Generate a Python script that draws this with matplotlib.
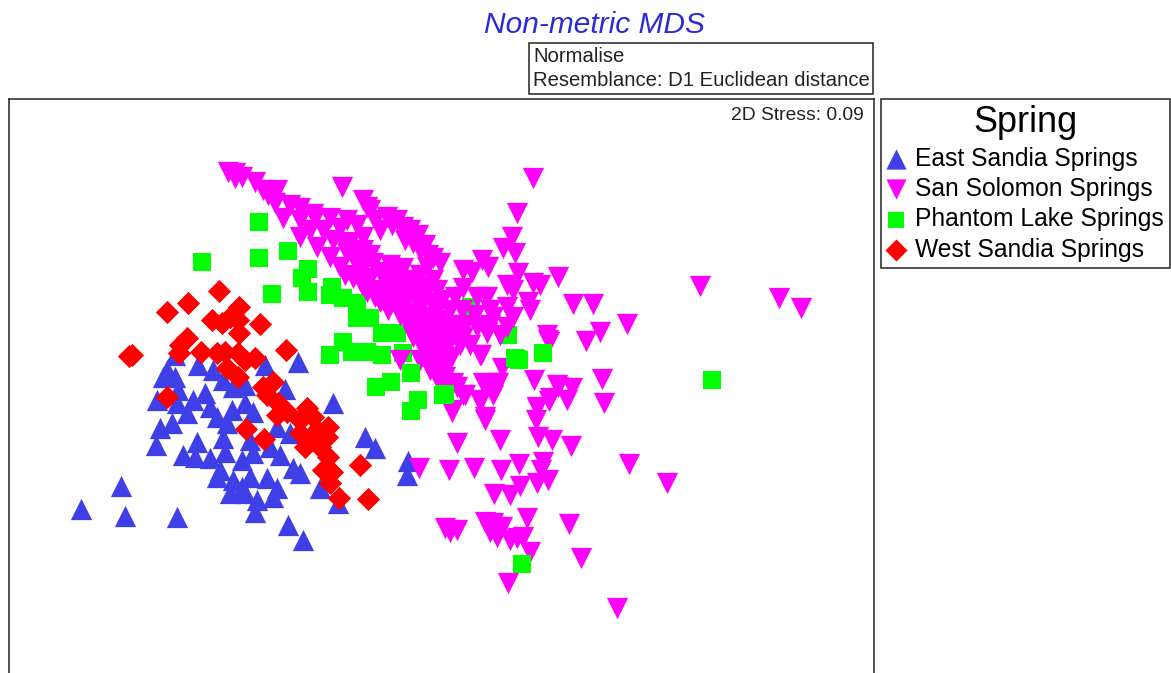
"""Non-metric MDS ordination of the spring samples, values read off the picture."""
import matplotlib
matplotlib.use("Agg")
import matplotlib.pyplot as plt
from matplotlib.patches import Rectangle

plt.rcParams["font.family"] = ["Liberation Sans", "DejaVu Sans"]

W, H = 1171, 673

# ordination scores, in the plot's own arbitrary units (y grows downwards)
EAST_SANDIA = [
    (81, 509), (121, 486), (125, 516), (177, 517), (255, 512), (288, 525), (303, 540),
    (298, 362), (333, 403), (365, 437), (375, 448), (408, 461), (407, 475), (338, 503),
    (320, 488), (300, 473), (293, 468), (280, 455), (270, 447), (250, 440), (242, 460),
    (253, 453), (223, 438), (225, 452), (220, 470), (217, 477), (233, 480), (230, 493),
    (242, 487), (250, 477), (267, 478), (277, 488), (273, 497), (257, 500), (245, 493),
    (197, 442), (183, 455), (195, 457), (210, 458), (156, 445), (160, 428), (172, 423),
    (187, 413), (193, 400), (205, 393), (210, 407), (217, 417), (227, 423), (232, 410),
    (245, 403), (253, 412), (157, 400), (177, 403), (178, 390), (163, 377), (175, 377),
    (167, 370), (175, 355), (198, 365), (213, 370), (223, 380), (233, 387), (245, 385),
    (265, 365), (285, 389), (277, 427), (290, 433), (308, 410),
]
SAN_SOLOMON = [
    # dense diagonal band
    (228, 172), (235, 173), (242, 177), (235, 178), (255, 182), (263, 190), (277, 190),
    (268, 195), (275, 203), (290, 205), (300, 208), (283, 218), (313, 214), (300, 220),
    (315, 218), (330, 218), (347, 220), (300, 237), (310, 230), (323, 230), (340, 228),
    (357, 225), (363, 237), (317, 247), (333, 240), (350, 242), (330, 257), (347, 253),
    (363, 250), (340, 267), (357, 265), (373, 263), (390, 265), (403, 268), (420, 275),
    (433, 280), (353, 278), (370, 278), (387, 280), (403, 282), (420, 287), (437, 290),
    (367, 292), (383, 293), (400, 295), (417, 300), (433, 303), (380, 302), (397, 308),
    (413, 313), (430, 317), (400, 315), (417, 327), (433, 327), (413, 337), (430, 340),
    (447, 337), (427, 350), (443, 353), (433, 367), (443, 373), (440, 363), (450, 360),
    (345, 245), (355, 255), (370, 255), (345, 275), (362, 270), (380, 272), (395, 275),
    (412, 280), (428, 287), (362, 285), (375, 290), (392, 288), (410, 292), (425, 295),
    (442, 300), (375, 297), (390, 302), (405, 303), (420, 308), (436, 312), (388, 310),
    (405, 315), (422, 320), (438, 320), (408, 325), (423, 333), (440, 330), (452, 325),
    (420, 343), (435, 347), (448, 345), (460, 345), (430, 358), (445, 365),
    # upper arm
    (363, 200), (370, 210), (367, 207), (387, 217), (403, 227), (418, 235), (413, 243),
    (420, 250), (433, 258), (440, 263), (380, 230), (397, 220), (410, 230), (427, 267),
    (375, 220), (392, 225), (405, 240), (425, 245), (428, 255),
    # cloud to the right of the band
    (342, 187), (533, 178), (517, 213), (512, 237), (503, 248), (515, 253), (482, 260),
    (488, 267), (463, 270), (472, 272), (518, 273), (558, 277), (507, 285), (513, 290),
    (533, 283), (540, 285), (528, 302), (530, 310), (463, 288), (455, 297), (477, 297),
    (487, 297), (507, 307), (513, 317), (493, 317), (477, 327), (487, 333), (463, 337),
    (480, 355), (507, 327), (547, 335), (548, 340), (502, 368), (534, 380), (483, 383),
    (493, 393), (498, 383), (463, 395), (480, 400), (452, 410), (485, 417), (550, 398),
    (537, 407), (557, 385), (400, 360), (420, 360), (453, 383), (435, 372),
    (462, 310), (475, 315), (490, 310), (450, 310), (465, 325), (490, 325), (500, 335),
    (470, 345), (455, 330), (445, 385), (438, 380),
    # far right
    (700, 286), (779, 298), (801, 308), (627, 324), (600, 332), (586, 341), (573, 304),
    (593, 304), (549, 342), (481, 355), (451, 357),
    # lower part
    (437, 373), (430, 370), (445, 377), (457, 387), (465, 395), (480, 402), (452, 412),
    (485, 420), (457, 443), (500, 440), (538, 437), (552, 440), (571, 446), (536, 420),
    (537, 408), (549, 401), (602, 379), (604, 403), (558, 387), (572, 388), (567, 400),
    (487, 385), (497, 383), (493, 395), (419, 468), (449, 470), (474, 468), (501, 470),
    (519, 464), (543, 462), (541, 470), (548, 480), (537, 483), (520, 486), (510, 495),
    (494, 494), (629, 464), (667, 483), (527, 518), (569, 524), (445, 528), (450, 532),
    (457, 530), (485, 522), (493, 523), (502, 527), (490, 532), (497, 537), (510, 540),
    (523, 537), (530, 552), (517, 538), (581, 558), (508, 583), (617, 608),
]
PHANTOM_LAKE = [
    (259, 222), (259, 258), (288, 251), (202, 262), (272, 294), (308, 269), (302, 278),
    (308, 292), (332, 287), (330, 295), (343, 298), (357, 303), (357, 318), (370, 318),
    (382, 333), (397, 333), (343, 342), (330, 355), (352, 352), (367, 352), (382, 355),
    (403, 353), (411, 373), (391, 382), (376, 387), (418, 400), (411, 411), (517, 359),
    (543, 353), (508, 335), (471, 307), (712, 380),
]
# these few sit on top of the magenta triangles
PHANTOM_LAKE_TOP = [(445, 394), (443, 395), (522, 564), (411, 373), (515, 358), (519, 360), (543, 353)]
WEST_SANDIA = [
    (219, 291), (188, 303), (167, 312), (239, 307), (260, 324), (212, 320), (222, 323),
    (230, 317), (238, 320), (239, 333), (187, 338), (180, 345), (179, 353), (132, 355),
    (129, 356), (286, 350), (201, 352), (217, 353), (225, 352), (238, 353), (245, 360),
    (255, 358), (227, 368), (238, 377), (273, 382), (263, 387), (267, 395), (278, 403),
    (277, 415), (287, 412), (307, 408), (313, 417), (300, 420), (328, 427), (317, 430),
    (327, 437), (300, 433), (310, 440), (305, 447), (320, 447), (328, 457), (323, 470),
    (332, 472), (330, 483), (339, 498), (368, 499), (360, 465), (246, 429), (264, 439),
    (167, 397),
]

COLOR_BLUE = "#3f3fe8"
COLOR_MAGENTA = "#ff00ff"
COLOR_GREEN = "#00ff00"
COLOR_RED = "#ff0000"
COLOR_TITLE = "#2a2ad8"
COLOR_FRAME = "#222222"


def frac(x, y):
    # image pixels (origin top left) to figure fractions
    return x / W, 1 - y / H


def scatter(ax, points, **kw):
    xs = [p[0] for p in points]
    ys = [p[1] for p in points]
    return ax.scatter(xs, ys, linewidths=0, **kw)


fig = plt.figure(figsize=(W / 100, H / 100), dpi=100)

left, bottom = frac(9, H)
ax = fig.add_axes([left, bottom, (874 - 9) / W, (H - 99) / H])
ax.set_xlim(9, 874)
ax.set_ylim(H, 99)
ax.set_xticks([])
ax.set_yticks([])
ax.spines["bottom"].set_visible(False)
for side in ("top", "left", "right"):
    ax.spines[side].set_linewidth(1.1)
    ax.spines[side].set_color(COLOR_FRAME)

h_east = scatter(ax, EAST_SANDIA, marker="^", s=235, color=COLOR_BLUE, zorder=2)
h_phantom = scatter(ax, PHANTOM_LAKE, marker="s", s=165, color=COLOR_GREEN, zorder=3)
h_san = scatter(ax, SAN_SOLOMON, marker="v", s=235, color=COLOR_MAGENTA, zorder=4)
scatter(ax, PHANTOM_LAKE_TOP, marker="s", s=165, color=COLOR_GREEN, zorder=5)
h_west = scatter(ax, WEST_SANDIA, marker="D", s=140, color=COLOR_RED, zorder=6)

ax.text(864, 116, "2D Stress: 0.09", ha="right", va="center", fontsize=13.9, color=COLOR_FRAME)

x, y = frac(594, 25)
fig.text(x, y, "Non-metric MDS", ha="center", va="center", fontsize=21.5,
         style="italic", color=COLOR_TITLE)

# resemblance box above the plot
x0, y0 = frac(529, 94)
fig.add_artist(Rectangle((x0, y0), (873 - 529) / W, (94 - 43) / H, transform=fig.transFigure,
                         facecolor="white", edgecolor=COLOR_FRAME, linewidth=1.1))
x, y = frac(533, 57)
fig.text(x, y, "Normalise", ha="left", va="center", fontsize=14.6, color=COLOR_FRAME)
x, y = frac(533, 80)
fig.text(x, y, "Resemblance: D1 Euclidean distance", ha="left", va="center",
         fontsize=14.6, color=COLOR_FRAME)

leg = fig.legend(
    [h_east, h_san, h_phantom, h_west],
    ["East Sandia Springs", "San Solomon Springs", "Phantom Lake Springs", "West Sandia Springs"],
    title="Spring", title_fontsize=26, fontsize=17.7,
    loc="upper left", bbox_to_anchor=frac(881, 99), borderaxespad=0,
    fancybox=False, framealpha=1, edgecolor=COLOR_FRAME,
    handlelength=0.7, handletextpad=0.42, labelspacing=0.26,
    borderpad=0.25, scatterpoints=1, markerscale=0.95,
)
leg.get_frame().set_linewidth(1.1)

fig.savefig("out.png", dpi=100)
plt.close(fig)
